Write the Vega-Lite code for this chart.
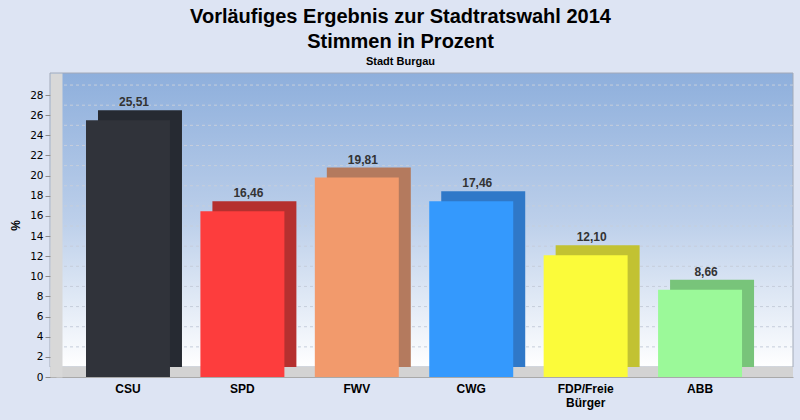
{
  "$schema": "https://vega.github.io/schema/vega-lite/v6.json",
  "autosize": "none",
  "width": 743,
  "height": 304,
  "padding": {"left": 50, "top": 73, "right": 7, "bottom": 43},
  "background": "#dde4f3",
  "title": {
    "text": ["Vorläufiges Ergebnis zur Stadtratswahl 2014", "Stimmen in Prozent"],
    "subtitle": "Stadt Burgau",
    "anchor": "middle",
    "dx": -21,
    "offset": 6,
    "font": "Liberation Sans",
    "fontSize": 20,
    "fontWeight": "bold",
    "lineHeight": 25,
    "color": "#000000",
    "subtitleFont": "Liberation Sans",
    "subtitleFontSize": 11,
    "subtitleFontWeight": "bold",
    "subtitleColor": "#000000",
    "subtitlePadding": 4
  },
  "datasets": {
    "votes": [
      {"partei": "CSU", "prozent": 25.51},
      {"partei": "SPD", "prozent": 16.46},
      {"partei": "FWV", "prozent": 19.81},
      {"partei": "CWG", "prozent": 17.46},
      {"partei": "FDP/Freie Bürger", "prozent": 12.10},
      {"partei": "ABB", "prozent": 8.66}
    ],
    "grid": [
      {"v": 2}, {"v": 4}, {"v": 6}, {"v": 8}, {"v": 10}, {"v": 12}, {"v": 14},
      {"v": 16}, {"v": 18}, {"v": 20}, {"v": 22}, {"v": 24}, {"v": 26}, {"v": 28}
    ],
    "wall": [{"unten": 0.99, "oben": 30.19, "boden": 0}]
  },
  "data": {"name": "votes"},
  "encoding": {
    "x": {
      "field": "partei",
      "type": "nominal",
      "sort": null,
      "scale": {"paddingInner": 0.266, "paddingOuter": 0.38, "align": 0.414},
      "axis": {
        "title": null,
        "labelAngle": 0,
        "labelExpr": "split(datum.label, ' ')",
        "labelFont": "Liberation Sans",
        "labelFontSize": 12,
        "labelFontWeight": "bold",
        "labelColor": "#000000",
        "labelLineHeight": 14,
        "labelPadding": 6,
        "ticks": false,
        "domainColor": "#a9a9a9",
        "zindex": 1
      }
    }
  },
  "layer": [
    {
      "data": {"name": "wall"},
      "mark": {
        "type": "rect",
        "stroke": "#a3aab8",
        "strokeWidth": 1,
        "fill": {
          "gradient": "linear", "x1": 0, "y1": 0, "x2": 0, "y2": 1,
          "stops": [
            {"offset": 0, "color": "#8eafdc"},
            {"offset": 0.5, "color": "#bccfea"},
            {"offset": 1, "color": "#ffffff"}
          ]
        }
      },
      "encoding": {
        "x": null,
        "y": {
          "field": "unten",
          "type": "quantitative",
          "scale": {"domain": [0, 30.19], "nice": false},
          "axis": {"values": [0, 2, 4, 6, 8, 10, 12, 14, 16, 18, 20, 22, 24, 26, 28], "title": "%", "zindex": 1}
        },
        "y2": {"field": "oben"}
      }
    },
    {
      "data": {"name": "wall"},
      "mark": {"type": "rect", "fill": "#d3d3d3", "stroke": null},
      "encoding": {
        "x": null,
        "y": {
          "field": "boden",
          "type": "quantitative",
          "axis": {"values": [0, 2, 4, 6, 8, 10, 12, 14, 16, 18, 20, 22, 24, 26, 28], "title": "%", "zindex": 1}
        },
        "y2": {"field": "unten"}
      }
    },
    {
      "data": {"name": "grid"},
      "mark": {"type": "rule", "stroke": "#c6cedb", "strokeDash": [3, 3], "strokeWidth": 1, "yOffset": -10},
      "encoding": {
        "x": null,
        "y": {
          "field": "v",
          "type": "quantitative",
          "axis": {"values": [0, 2, 4, 6, 8, 10, 12, 14, 16, 18, 20, 22, 24, 26, 28], "title": "%", "zindex": 1}
        }
      }
    },
    {
      "mark": {"type": "bar", "xOffset": 12, "yOffset": -10, "y2Offset": -10},
      "encoding": {
        "y": {
          "field": "prozent",
          "type": "quantitative",
          "axis": {"values": [0, 2, 4, 6, 8, 10, 12, 14, 16, 18, 20, 22, 24, 26, 28], "title": "%", "zindex": 1}
        },
        "color": {
          "field": "partei",
          "type": "nominal",
          "scale": {
            "domain": ["CSU", "SPD", "FWV", "CWG", "FDP/Freie Bürger", "ABB"],
            "range": ["#262a32", "#b5302f", "#b47a5e", "#2f78c8", "#c2c232", "#78c47a"]
          },
          "legend": null
        }
      }
    },
    {
      "mark": {"type": "bar"},
      "encoding": {
        "y": {
          "field": "prozent",
          "type": "quantitative",
          "axis": {"values": [0, 2, 4, 6, 8, 10, 12, 14, 16, 18, 20, 22, 24, 26, 28], "title": "%", "zindex": 1}
        },
        "color": {
          "field": "partei",
          "type": "nominal",
          "scale": {
            "domain": ["CSU", "SPD", "FWV", "CWG", "FDP/Freie Bürger", "ABB"],
            "range": ["#30333a", "#fd3d3d", "#f29a6c", "#3499fd", "#fbfb3a", "#9bf999"]
          },
          "legend": null
        }
      }
    },
    {
      "mark": {
        "type": "text",
        "baseline": "alphabetic",
        "dx": 6,
        "dy": -14,
        "font": "Liberation Sans",
        "fontSize": 12,
        "fontWeight": "bold",
        "color": "#333333"
      },
      "encoding": {
        "y": {
          "field": "prozent",
          "type": "quantitative",
          "axis": {"values": [0, 2, 4, 6, 8, 10, 12, 14, 16, 18, 20, 22, 24, 26, 28], "title": "%", "zindex": 1}
        },
        "text": {"field": "prozent", "type": "quantitative", "format": ",.2f"}
      }
    }
  ],
  "resolve": {"scale": {"color": "independent"}},
  "config": {
    "locale": {"number": {"decimal": ",", "thousands": ".", "grouping": [3], "currency": ["", " €"]}},
    "view": {"stroke": null},
    "axisY": {
      "labelOverlap": false,
      "titleFont": "Liberation Sans",
      "titleFontSize": 12,
      "titleFontWeight": "bold",
      "titleColor": "#000000",
      "titlePadding": 7,
      "labelFont": "DejaVu Sans",
      "labelFontSize": 10.5,
      "labelColor": "#000000",
      "labelPadding": 2,
      "offset": -6,
      "tickSize": 11,
      "tickColor": "#8a8a8a",
      "domainWidth": 12,
      "domainColor": "#d8d8d8",
      "grid": false
    }
  }
}
